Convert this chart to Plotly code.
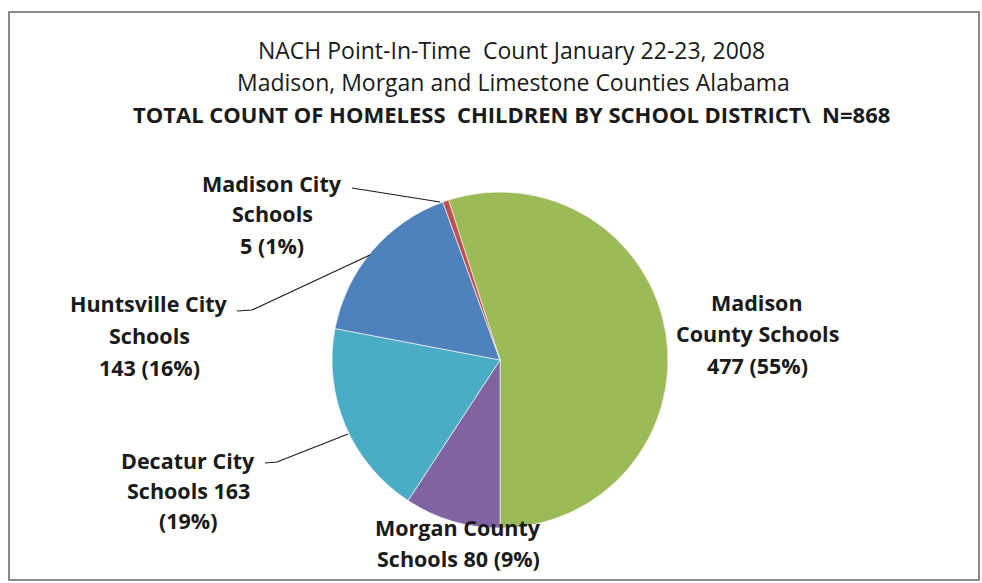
import plotly.graph_objects as go

W, H = 982, 583

# ---- data ----
districts = ["Madison County Schools", "Morgan County Schools", "Decatur City Schools",
             "Huntsville City Schools", "Madison City Schools"]
counts = [477, 80, 163, 143, 5]
colors = ["#9BBB59", "#8064A2", "#4BACC6", "#4F81BD", "#C0504D"]
title_lines = ["NACH Point-In-Time  Count January 22-23, 2008",
               "Madison, Morgan and Limestone Counties Alabama",
               "TOTAL COUNT OF HOMELESS  CHILDREN BY SCHOOL DISTRICT\\  N=868"]

total = sum(counts)
pct = [round(100 * c / total) for c in counts]
val = [f"{c} ({p}%)" for c, p in zip(counts, pct)]
label_lines = [
    ["Madison", "County Schools", val[0]],
    ["Morgan County", f"Schools {val[1]}"],
    ["Decatur City", f"Schools {counts[2]}", f"({pct[2]}%)"],
    ["Huntsville City", "Schools", val[3]],
    ["Madison City", "Schools", val[4]],
]

# label layout (pixel centres of first line, line spacing)
label_pos = [(757, 302, 31.5), (458, 527, 31), (188, 460, 30), (149, 303, 32), (272, 183, 31)]
leaders = [
    [(352, 188), (440, 202)],
    [(237, 311), (252, 310), (370, 255)],
    [(265, 463), (277, 462), (348, 434)],
]

def px(x):
    return x / W

def py(y):
    return 1 - y / H

cx, cy, r = 500, 360, 168

fig = go.Figure(go.Pie(
    labels=districts, values=counts, sort=False, direction="clockwise",
    rotation=180 - 360 * counts[0] / total,
    marker=dict(colors=colors, line=dict(color="rgba(255,255,255,0.6)", width=1)),
    textinfo="none", hoverinfo="label+value+percent", showlegend=False,
    domain=dict(x=[px(cx - r), px(cx + r)], y=[py(cy + r), py(cy - r)]),
))

FONT = "Open Sans, Calibri, sans-serif"
ann = []
title_pos = [(512, 50, False, 23), (513, 82, False, 23), (511, 114, True, 22)]
for t, (x, y, b, s) in zip(title_lines, title_pos):
    ann.append(dict(x=px(x), y=py(y), xref="paper", yref="paper", showarrow=False,
                    text=f"<b>{t}</b>" if b else t, xanchor="center", yanchor="middle",
                    font=dict(family=FONT, size=s, color="#1a1a1a")))
for lines, (x, y, dy) in zip(label_lines, label_pos):
    for i, ln in enumerate(lines):
        ann.append(dict(x=px(x), y=py(y + i * dy), xref="paper", yref="paper", showarrow=False,
                        text=f"<b>{ln}</b>", xanchor="center", yanchor="middle",
                        font=dict(family=FONT, size=21.5, color="#1a1a1a")))

shapes = [dict(type="rect", xref="paper", yref="paper", x0=px(9), x1=px(979), y0=py(580), y1=py(12),
               line=dict(color="#8a8a8a", width=2), fillcolor="rgba(0,0,0,0)")]
for pts in leaders:
    path = "M " + " L ".join(f"{px(x)},{py(y)}" for x, y in pts)
    shapes.append(dict(type="path", xref="paper", yref="paper", path=path,
                       line=dict(color="#1a1a1a", width=1.2)))

fig.update_layout(width=W, height=H, margin=dict(l=0, r=0, t=0, b=0),
                  paper_bgcolor="white", plot_bgcolor="white",
                  annotations=ann, shapes=shapes)
fig.write_html("out.html", config={"displayModeBar": False},
               post_script="document.body.style.margin='0';document.body.style.overflow='hidden';")
